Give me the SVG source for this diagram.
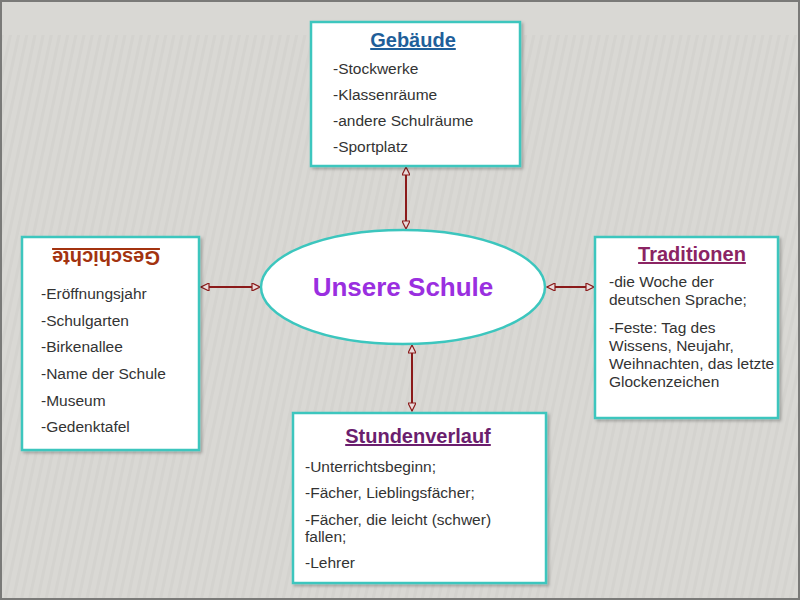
<svg xmlns="http://www.w3.org/2000/svg" width="800" height="600" viewBox="0 0 800 600">
  <defs>
    <pattern id="stripes" width="8" height="8" patternUnits="userSpaceOnUse" patternTransform="rotate(12)">
      <rect width="8" height="8" fill="#d9d8d4"/>
      <rect width="3" height="8" fill="#d0cfcb"/>
    </pattern>
    <marker id="ah" viewBox="0 0 10 10" refX="10" refY="5" markerWidth="10" markerHeight="8" markerUnits="userSpaceOnUse" orient="auto-start-reverse">
      <path d="M0,0 L10,5 L0,10 Z" fill="#e9dada" stroke="#8b1a1a" stroke-width="1.5"/>
    </marker>
    <filter id="sh" x="-5%" y="-5%" width="110%" height="110%">
      <feDropShadow dx="2" dy="2" stdDeviation="1.5" flood-color="#000" flood-opacity="0.25"/>
    </filter>
  </defs>
  <style>
    .box{fill:#ffffff;stroke:#3cc6be;stroke-width:2.5;filter:url(#sh)}
    .item{font-family:"Liberation Sans",Arial,sans-serif;font-size:15.5px;fill:#333333}
    .title{font-family:"Liberation Sans",Arial,sans-serif;font-size:20px;font-weight:bold;text-decoration:underline;text-anchor:middle}
    .conn{stroke:#8b1a1a;stroke-width:2;fill:none;marker-start:url(#ah);marker-end:url(#ah)}
  </style>
  <rect x="0" y="0" width="800" height="600" fill="#d9d8d4"/>
  <rect x="0" y="35" width="800" height="565" fill="url(#stripes)" opacity="0.6"/>
  <rect x="1" y="1" width="798" height="598" fill="none" stroke="#7a7a78" stroke-width="2"/>

  <g id="connectors">
    <line class="conn" x1="406" y1="167" x2="406" y2="229"/>
    <line class="conn" x1="201" y1="287" x2="260" y2="287"/>
    <line class="conn" x1="547" y1="287" x2="594" y2="287"/>
    <line class="conn" x1="412" y1="345" x2="412" y2="411"/>
  </g>

  <g id="center">
    <ellipse cx="403" cy="287" rx="142" ry="57" fill="#ffffff" stroke="#3cc6be" stroke-width="2.5"/>
    <text x="403" y="296" text-anchor="middle" font-family="'Liberation Sans',Arial,sans-serif" font-size="26" font-weight="bold" fill="#9a2fe0">Unsere Schule</text>
  </g>

  <g id="gebaeude">
    <rect class="box" x="311" y="22" width="209" height="144"/>
    <text class="title" x="413" y="47" fill="#1f5f9a">Gebäude</text>
    <text class="item" x="333" y="74">-Stockwerke</text>
    <text class="item" x="333" y="100">-Klassenräume</text>
    <text class="item" x="333" y="126">-andere Schulräume</text>
    <text class="item" x="333" y="152">-Sportplatz</text>
  </g>

  <g id="geschichte">
    <rect class="box" x="22" y="237" width="177" height="213"/>
    <text class="title" x="0" y="0" fill="#a3330f" transform="translate(106,251) rotate(180)">Geschichte</text>
    <text class="item" x="41" y="299">-Eröffnungsjahr</text>
    <text class="item" x="41" y="326">-Schulgarten</text>
    <text class="item" x="41" y="352">-Birkenallee</text>
    <text class="item" x="41" y="379">-Name der Schule</text>
    <text class="item" x="41" y="406">-Museum</text>
    <text class="item" x="41" y="432">-Gedenktafel</text>
  </g>

  <g id="traditionen">
    <rect class="box" x="595" y="237" width="183" height="181"/>
    <text class="title" x="692" y="261" fill="#8b2463">Traditionen</text>
    <text class="item" x="609" y="287">-die Woche der</text>
    <text class="item" x="609" y="305">deutschen Sprache;</text>
    <text class="item" x="609" y="333">-Feste: Tag des</text>
    <text class="item" x="609" y="351">Wissens, Neujahr,</text>
    <text class="item" x="609" y="369">Weihnachten, das letzte</text>
    <text class="item" x="609" y="387">Glockenzeichen</text>
  </g>

  <g id="stundenverlauf">
    <rect class="box" x="293" y="413" width="253" height="170"/>
    <text class="title" x="418" y="443" fill="#6b1e6e">Stundenverlauf</text>
    <text class="item" x="305" y="472">-Unterrichtsbeginn;</text>
    <text class="item" x="305" y="498">-Fächer, Lieblingsfächer;</text>
    <text class="item" x="305" y="525">-Fächer, die leicht (schwer)</text>
    <text class="item" x="305" y="542">fallen;</text>
    <text class="item" x="305" y="568">-Lehrer</text>
  </g>
</svg>
